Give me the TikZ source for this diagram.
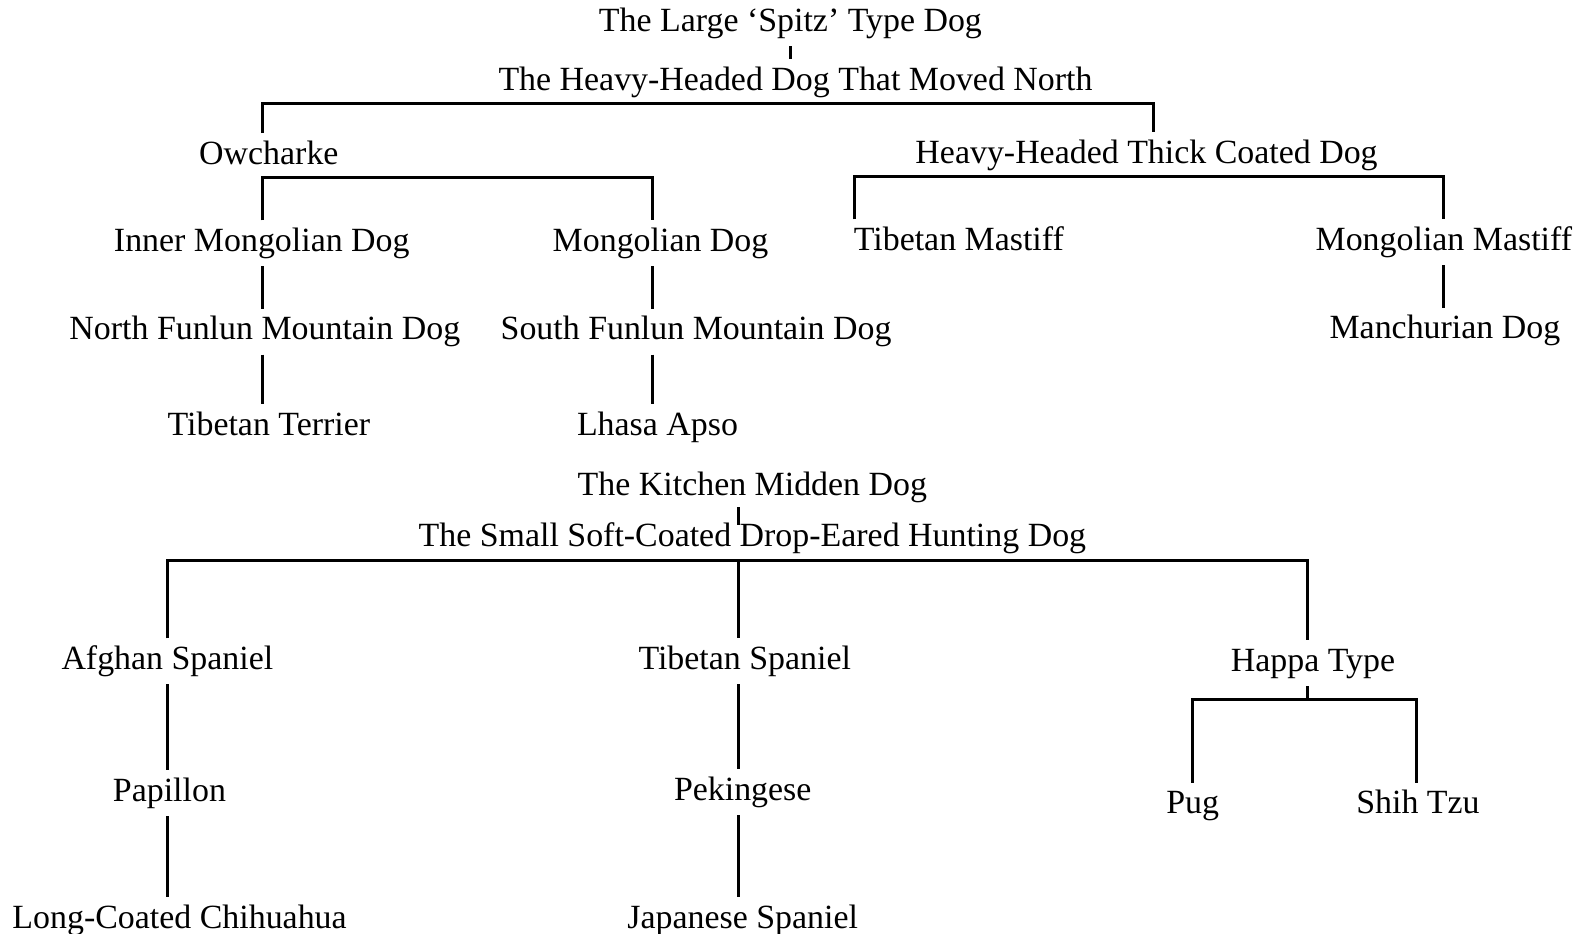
\documentclass[tikz,border=0pt]{standalone}
\usepackage{fontspec}
\setmainfont{Liberation Serif}
\usepackage{tikz}
\usetikzlibrary{calc}

\begin{document}
\begin{tikzpicture}[x=0.01cm, y=-0.01cm, every node/.style={font=\fontsize{9.5}{11}\selectfont}, breed/.style={inner sep=2pt, text height=6.5pt, text depth=2pt, yshift=-1.1pt}, link/.style={line width=0.8pt}]
\useasboundingbox (0,0) rectangle (1568,920);
% upper tree
\node[breed] (spitz) at (779,19) {The Large ‘Spitz’ Type Dog};
\node[breed] (north) at (784,77) {The Heavy-Headed Dog That Moved North};
\node[breed] (owch) at (265,150) {Owcharke};
\node[breed] (thick) at (1130,149) {Heavy-Headed Thick Coated Dog};
\node[breed] (inner) at (258,236) {Inner Mongolian Dog};
\node[breed] (mongol) at (651,236) {Mongolian Dog};
\node[breed] (tibmast) at (945,235) {Tibetan Mastiff};
\node[breed] (mongmast) at (1423,235) {Mongolian Mastiff};
\node[breed] (nfunlun) at (261,323) {North Funlun Mountain Dog};
\node[breed] (sfunlun) at (686,323) {South Funlun Mountain Dog};
\node[breed] (manchu) at (1424,322) {Manchurian Dog};
\node[breed] (terrier) at (265,417) {Tibetan Terrier};
\node[breed] (lhasa) at (648,417) {Lhasa Apso};
\coordinate (topL) at (259,102);
\coordinate (topR) at (1137,102);
\coordinate (owL) at (259,175);
\coordinate (owR) at (643,175);
\coordinate (thL) at (842,174);
\coordinate (thR) at (1423,174);
\draw[link] (spitz.south) -- (spitz.south |- north.north);
\draw[link] (owch.north -| topL) -- (topL) -- (topR) -- (thick.north -| topR);
\draw[link] (thick.south -| topR) -- (thL -| topR);
\draw[link] (inner.north -| owL) -- (owL) -- (owR) -- (mongol.north -| owR);
\draw[link] (tibmast.north -| thL) -- (thL) -- (thR) -- (mongmast.north -| thR);
\draw[link] (inner.south -| owL) -- (nfunlun.north -| owL);
\draw[link] (nfunlun.south -| owL) -- (terrier.north -| owL);
\draw[link] (mongol.south -| owR) -- (sfunlun.north -| owR);
\draw[link] (sfunlun.south -| owR) -- (lhasa.north -| owR);
\draw[link] (mongmast.south -| thR) -- (manchu.north -| thR);
% lower tree
\node[breed] (midden) at (741.5,477) {The Kitchen Midden Dog};
\node[breed] (hunting) at (741.5,527) {The Small Soft-Coated Drop-Eared Hunting Dog};
\node[breed] (afghan) at (165,648) {Afghan Spaniel};
\node[breed] (tibspan) at (734,648) {Tibetan Spaniel};
\node[breed] (happa) at (1294,650) {Happa Type};
\node[breed] (papillon) at (167,778) {Papillon};
\node[breed] (peke) at (732,777) {Pekingese};
\node[breed] (pug) at (1175.5,790) {Pug};
\node[breed] (shihtzu) at (1397.5,790) {Shih Tzu};
\node[breed] (chihuahua) at (177,903) {Long-Coated Chihuahua};
\node[breed] (japspan) at (732,903) {Japanese Spaniel};
\coordinate (lowL) at (165,552);
\coordinate (lowM) at (728,552);
\coordinate (lowR) at (1289,552);
\coordinate (hapL) at (1175,689);
\coordinate (hapR) at (1396,689);
\draw[link, shorten <=-1pt, shorten >=-2.5pt] (midden.south -| lowM) -- (hunting.north -| lowM);
\draw[link] (afghan.north -| lowL) -- (lowL) -- (lowR) -- (happa.north -| lowR);
\draw[link] (hunting.south -| lowM) -- (tibspan.north -| lowM);
\draw[link] (afghan.south -| lowL) -- (papillon.north -| lowL);
\draw[link] (papillon.south -| lowL) -- (chihuahua.north -| lowL);
\draw[link] (tibspan.south -| lowM) -- (peke.north -| lowM);
\draw[link] (peke.south -| lowM) -- (japspan.north -| lowM);
\draw[link] (happa.south -| lowR) -- (hapL -| lowR);
\draw[link] (pug.north -| hapL) -- (hapL) -- (hapR) -- (shihtzu.north -| hapR);
\end{tikzpicture}
\end{document}
